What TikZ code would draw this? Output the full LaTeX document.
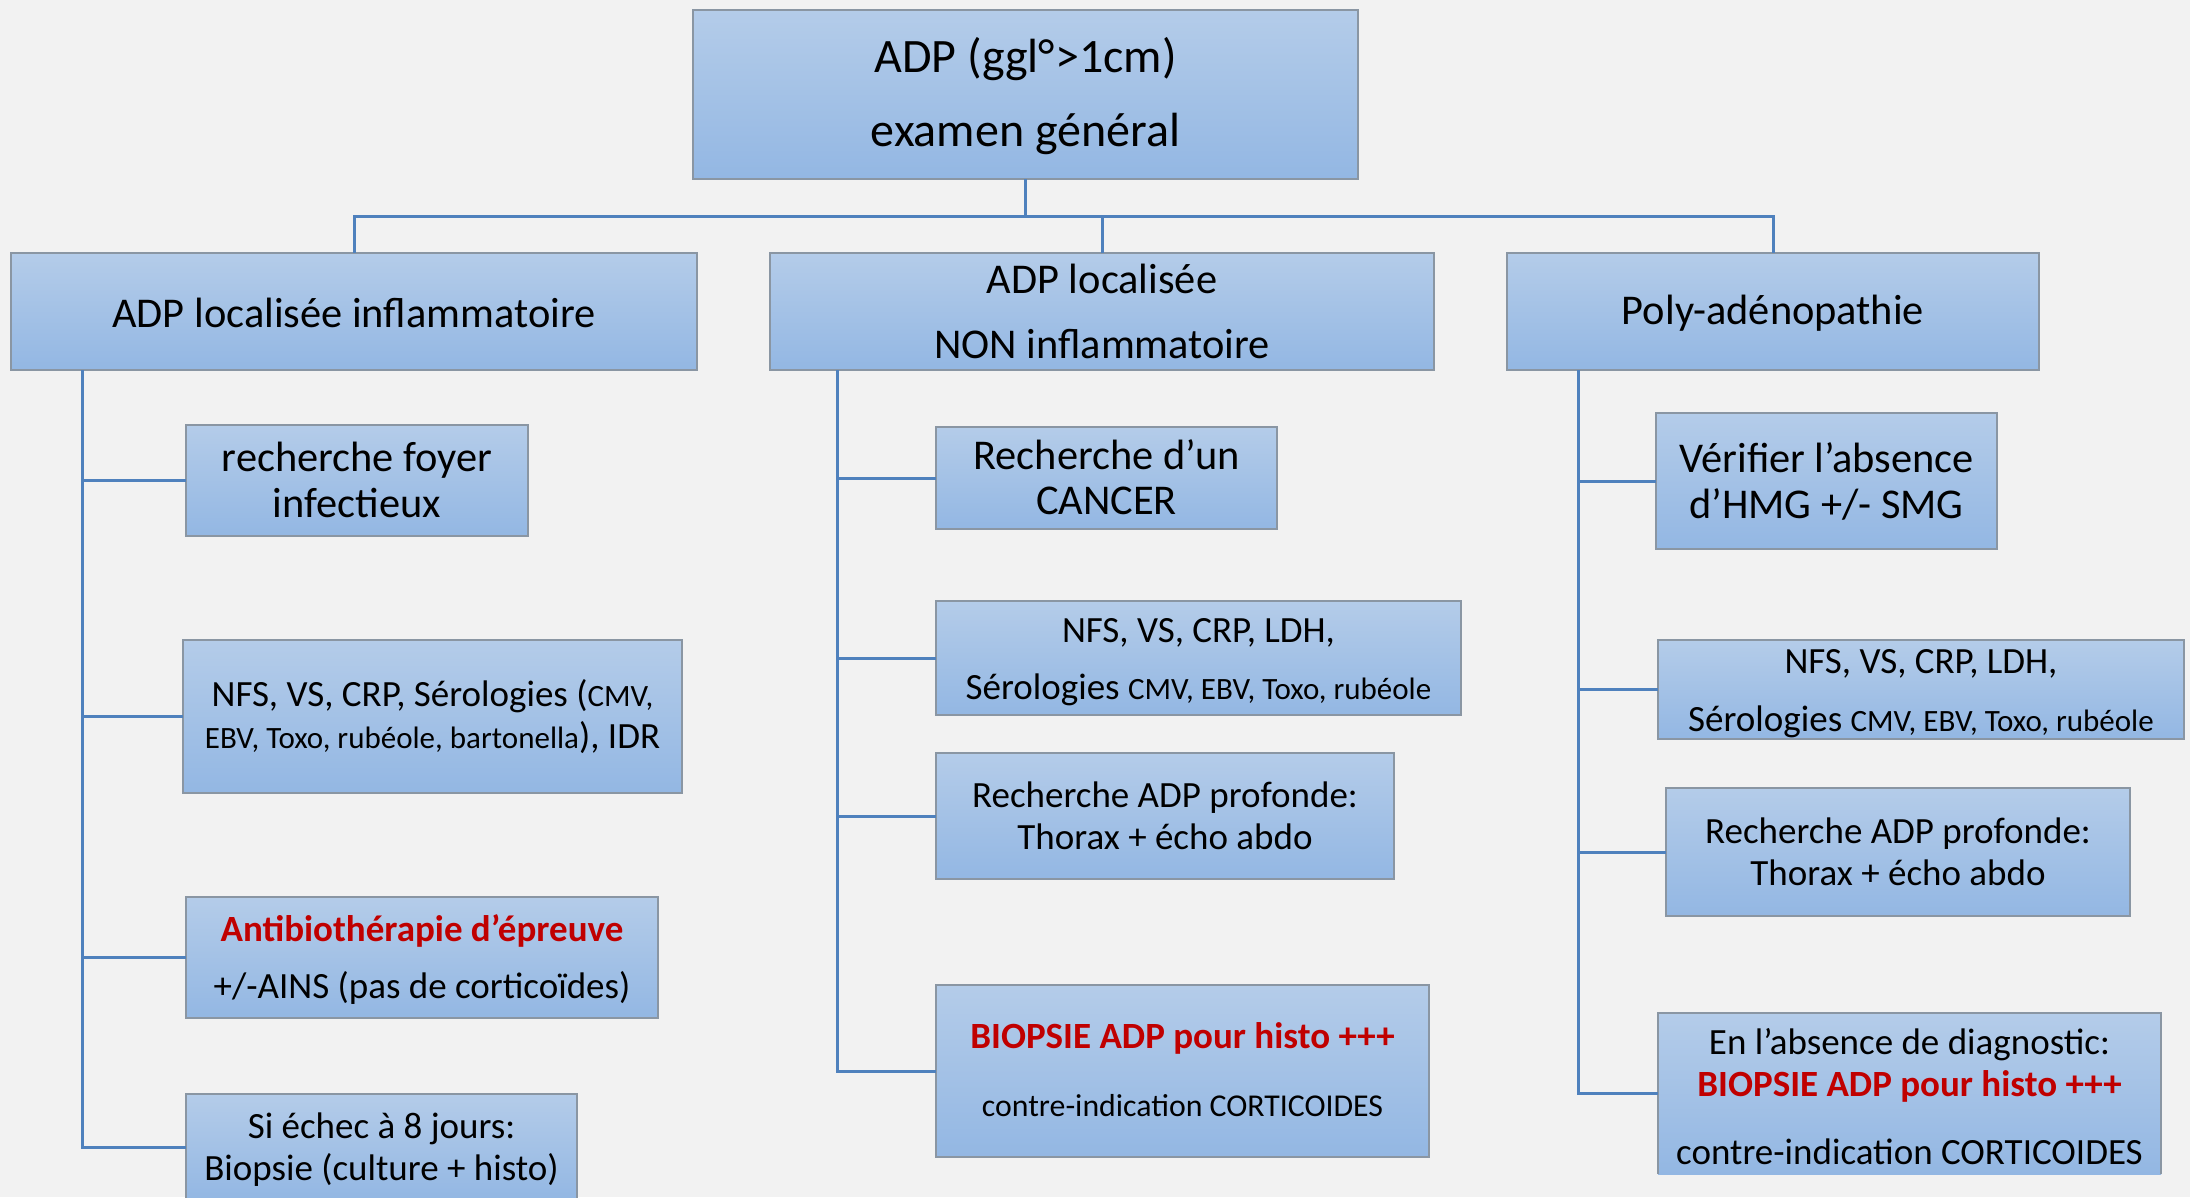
\documentclass[tikz,border=0pt]{standalone}
\usepackage{fontspec}
\setmainfont{Carlito}
\definecolor{bgc}{HTML}{F2F2F2}
\definecolor{boxtop}{HTML}{B4CCE9}
\definecolor{boxbot}{HTML}{93B7E3}
\definecolor{boxline}{HTML}{8A96A3}
\definecolor{connc}{HTML}{4F81BD}
\definecolor{redt}{HTML}{C00000}
\newcommand\sml{\fontsize{31}{37}\selectfont}
\begin{document}
\begin{tikzpicture}[x=1pt,y=-1pt,
  box/.style={draw=boxline, line width=1.8pt, top color=boxtop, bottom color=boxbot, rectangle, inner sep=0pt, outer sep=0pt},
  conn/.style={draw=connc, line width=3pt},
  tA/.style={anchor=base, inner sep=0pt, font=\fontsize{48}{58}\selectfont},
  tB/.style={anchor=base, inner sep=0pt, font=\fontsize{42.4}{50}\selectfont},
  tC/.style={anchor=base, inner sep=0pt, font=\fontsize{37}{44}\selectfont},
  tR/.style={anchor=base, inner sep=0pt, text=redt, font=\fontsize{37}{44}\selectfont\bfseries},
  tS/.style={anchor=base, inner sep=0pt, font=\fontsize{31.8}{38}\selectfont}]
\useasboundingbox (0,0) rectangle (2190,1197);
\clip (0,0) rectangle (2190,1197);
\fill[bgc] (0,0) rectangle (2190,1197);

% boxes
\node[box, minimum width=665, minimum height=169] (top) at (1025.5,94.5) {};
\node[box, minimum width=686, minimum height=117] (A) at (354,311.5) {};
\node[box, minimum width=664, minimum height=117] (B) at (1102,311.5) {};
\node[box, minimum width=532, minimum height=117] (C) at (1773,311.5) {};
\node[box, minimum width=342, minimum height=111] (A1) at (357,480.5) {};
\node[box, minimum width=499, minimum height=153] (A2) at (432.5,716.5) {};
\node[box, minimum width=472, minimum height=121] (A3) at (422,957.5) {};
\node[box, minimum width=391, minimum height=106] (A4) at (381.5,1147) {};
\node[box, minimum width=341, minimum height=102] (B1) at (1106.5,478) {};
\node[box, minimum width=525, minimum height=114] (B2) at (1198.5,658) {};
\node[box, minimum width=458, minimum height=126] (B3) at (1165,816) {};
\node[box, minimum width=493, minimum height=172] (B4) at (1182.5,1071) {};
\node[box, minimum width=341, minimum height=136] (C1) at (1826.5,481) {};
\node[box, minimum width=526, minimum height=99] (C2) at (1921,689.5) {};
\node[box, minimum width=464, minimum height=128] (C3) at (1898,852) {};
\node[box, draw=none, minimum width=503, minimum height=161] (C4) at (1909.5,1093.5) {};
\draw[boxline, line width=1.8pt] (C4.south west) -- (C4.north west) -- (C4.north east) -- (C4.south east);

% connectors
\coordinate (bus) at (1025,216);
\draw[conn] (top.south) -- (top.south |- bus);
\draw[conn] (A.north) -- (A.north |- bus) -- (C.north |- bus) -- (C.north);
\draw[conn] (B.north) -- (B.north |- bus);

\coordinate (Lt) at (82,370);
\coordinate (Mt) at (837,370);
\coordinate (Rt) at (1578,370);
\draw[conn] (Lt) |- (A4.west);
\draw[conn] (Lt |- A1.west) -- (A1.west);
\draw[conn] (Lt |- A2.west) -- (A2.west);
\draw[conn] (Lt |- A3.west) -- (A3.west);
\draw[conn] (Mt) |- (B4.west);
\draw[conn] (Mt |- B1.west) -- (B1.west);
\draw[conn] (Mt |- B2.west) -- (B2.west);
\draw[conn] (Mt |- B3.west) -- (B3.west);
\draw[conn] (Rt) |- (C4.west);
\draw[conn] (Rt |- C1.west) -- (C1.west);
\draw[conn] (Rt |- C2.west) -- (C2.west);
\draw[conn] (Rt |- C3.west) -- (C3.west);

% texts
\node[tA] (ttop1) at (top.center |- 0,72) {ADP (ggl°>1cm)};
\node[tA] (ttop2) at (top.center |- 0,146) {examen général};
\node[tB] (tA) at (A.center |- 0,327) {ADP localisée inflammatoire};
\node[tB] (tB1) at (B.center |- 0,293) {ADP localisée};
\node[tB] (tB2) at (B.center |- 0,358) {NON inflammatoire};
\node[tB] (tC) at (C.center |- 0,324) {Poly-adénopathie};

\node[tB] (tA1a) at (A1.center |- 0,471) {recherche foyer};
\node[tB] (tA1b) at (A1.center |- 0,517) {infectieux};
\node[tC] (tA2a) at (A2.center |- 0,706) {NFS, VS, CRP, Sérologies ({\sml CMV,}};
\node[tC] (tA2b) at (A2.center |- 0,748) {{\sml EBV, Toxo, rubéole, bartonella}), IDR};
\node[tR] (tA3a) at (A3.center |- 0,941) {Antibiothérapie d’épreuve};
\node[tC] (tA3b) at (A3.center |- 0,998) {+/-AINS (pas de corticoïdes)};
\node[tC] (tA4a) at (A4.center |- 0,1138) {Si échec à 8 jours:};
\node[tC] (tA4b) at (A4.center |- 0,1180) {Biopsie (culture + histo)};

\node[tB] (tB1a) at (B1.center |- 0,469) {Recherche d’un};
\node[tB] (tB1b) at (B1.center |- 0,514) {CANCER};
\node[tC] (tB2a) at (B2.center |- 0,642) {NFS, VS, CRP, LDH,};
\node[tC] (tB2b) at (B2.center |- 0,699) {Sérologies {\sml CMV, EBV, Toxo, rubéole}};
\node[tC] (tB3a) at (B3.center |- 0,807) {Recherche ADP profonde:};
\node[tC] (tB3b) at (B3.center |- 0,849) {Thorax + écho abdo};
\node[tR] (tB4a) at (B4.center |- 0,1048) {BIOPSIE ADP pour histo +++};
\node[tS] (tB4b) at (B4.center |- 0,1116) {contre-indication CORTICOIDES};

\node[tB] (tC1a) at (C1.center |- 0,472) {Vérifier l’absence};
\node[tB] (tC1b) at (C1.center |- 0,518) {d’HMG +/- SMG};
\node[tC] (tC2a) at (C2.center |- 0,673) {NFS, VS, CRP, LDH,};
\node[tC] (tC2b) at (C2.center |- 0,731) {Sérologies {\sml CMV, EBV, Toxo, rubéole}};
\node[tC] (tC3a) at (C3.center |- 0,843) {Recherche ADP profonde:};
\node[tC] (tC3b) at (C3.center |- 0,885) {Thorax + écho abdo};
\node[tC] (tC4a) at (C4.center |- 0,1054) {En l’absence de diagnostic:};
\node[tR] (tC4b) at (C4.center |- 0,1096) {BIOPSIE ADP pour histo +++};
\node[tC] (tC4c) at (C4.center |- 0,1164) {contre-indication CORTICOIDES};
\end{tikzpicture}
\end{document}
